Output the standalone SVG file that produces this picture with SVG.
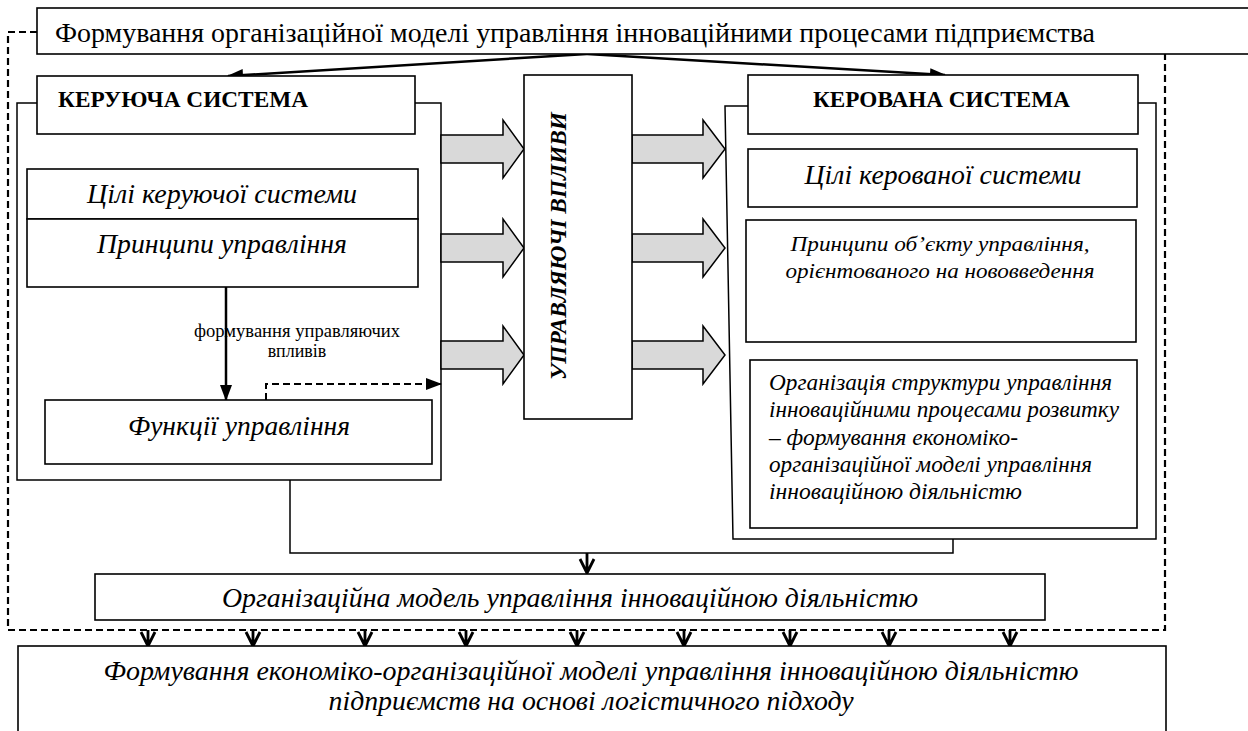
<svg xmlns="http://www.w3.org/2000/svg" width="1248" height="731" viewBox="0 0 1248 731">
<style>
text{font-family:"Liberation Serif","Times New Roman",serif;fill:#000}
.box{fill:#fff;stroke:#000;stroke-width:1.6}
.ln{fill:none;stroke:#000;stroke-width:1.5}
.dash{fill:none;stroke:#000;stroke-width:2.2;stroke-dasharray:7 4}
.ga{fill:#d9d9d9;stroke:#000;stroke-width:1.5}
.b{font-weight:bold}
.it{font-style:italic}
.bi{font-weight:bold;font-style:italic}
.v{fill:none;stroke:#000;stroke-width:2.8}
</style>
<defs>
<marker id="ahl" markerWidth="16" markerHeight="12" refX="15" refY="6" orient="auto" markerUnits="userSpaceOnUse">
<path d="M0,0 L16,6 L0,12 Z" fill="#000"/>
</marker>
<g id="vArrow"><path class="v" d="M0,0 V16 M-7,2 L0,16 L7,2"/></g>
</defs>

<g id="connectors">
<path class="dash" d="M37,32 H8 V630 H1165 V32 H1135"/>
<path class="ln" d="M587,54 L228,76" style="stroke-width:2.5" marker-end="url(#ahl)"/>
<path class="ln" d="M587,54 L945,75" style="stroke-width:2.5" marker-end="url(#ahl)"/>
<path class="ln" d="M226,287 V400" style="stroke-width:2.5" marker-end="url(#ahl)"/>
<path class="dash" d="M266,400 V384 H441" style="stroke-width:2" marker-end="url(#ahl)"/>
<path class="ln" d="M37,103 H17 V480 H441 V103 H415"/>
<path class="ln" d="M748,106 H725 L733,539 H1156 V103 H1138"/>
<path class="ln" d="M290,480 V553 H953 V539"/>
<use href="#vArrow" x="587" y="557"/>
<path class="v" d="M587,553 V557"/>
<use href="#vArrow" x="148" y="630"/>
<use href="#vArrow" x="253" y="630"/>
<use href="#vArrow" x="365" y="630"/>
<use href="#vArrow" x="466" y="630"/>
<use href="#vArrow" x="577" y="630"/>
<use href="#vArrow" x="684" y="630"/>
<use href="#vArrow" x="790" y="630"/>
<use href="#vArrow" x="889" y="630"/>
<use href="#vArrow" x="1010" y="630"/>
<path class="ga" d="M441,135 H503 V120 L524,149 L503,178 V163 H441 Z"/>
<path class="ga" d="M441,234 H503 V219 L524,248 L503,277 V262 H441 Z"/>
<path class="ga" d="M441,341 H503 V326 L524,355 L503,384 V369 H441 Z"/>
<path class="ga" d="M632,135 H703 V120 L725,149 L703,178 V163 H632 Z"/>
<path class="ga" d="M632,234 H703 V219 L725,248 L703,277 V262 H632 Z"/>
<path class="ga" d="M632,341 H703 V326 L725,355 L703,384 V369 H632 Z"/>
</g>

<g id="title">
<rect class="box" x="37" y="8" width="1230" height="46"/>
<text x="55" y="42" font-size="28" textLength="1040" lengthAdjust="spacingAndGlyphs">Формування організаційної моделі управління інноваційними процесами підприємства</text>
</g>

<g id="keruyucha">
<rect class="box" x="37" y="76" width="378" height="58"/>
<text x="58" y="107" font-size="23" class="b" textLength="250" lengthAdjust="spacingAndGlyphs">КЕРУЮЧА СИСТЕМА</text>
</g>

<g id="tsili-keruyuchoi">
<rect class="box" x="27" y="169" width="391" height="50"/>
<text x="222" y="203" font-size="28" class="it" text-anchor="middle" textLength="270" lengthAdjust="spacingAndGlyphs">Цілі керуючої системи</text>
</g>

<g id="pryntsypy">
<rect class="box" x="27" y="219" width="391" height="68"/>
<text x="222" y="253" font-size="28" class="it" text-anchor="middle" textLength="250" lengthAdjust="spacingAndGlyphs">Принципи управління</text>
</g>

<g id="label-formuvannya">
<text x="297" y="337" font-size="18" text-anchor="middle" textLength="206" lengthAdjust="spacingAndGlyphs">формування управляючих</text>
<text x="297" y="357" font-size="18" text-anchor="middle">впливів</text>
</g>

<g id="funktsii">
<rect class="box" x="45" y="400" width="387" height="64"/>
<text x="239" y="435" font-size="28" class="it" text-anchor="middle" textLength="222" lengthAdjust="spacingAndGlyphs">Функції управління</text>
</g>

<g id="upravlyayuchi">
<rect class="box" x="524" y="75" width="108" height="344"/>
<text transform="translate(566,246) rotate(-90)" font-size="23" class="bi" text-anchor="middle" textLength="268" lengthAdjust="spacingAndGlyphs">УПРАВЛЯЮЧІ ВПЛИВИ</text>
</g>

<g id="kerovana">
<rect class="box" x="748" y="75" width="390" height="59"/>
<text x="813" y="107" font-size="23" class="b" textLength="257" lengthAdjust="spacingAndGlyphs">КЕРОВАНА СИСТЕМА</text>
</g>

<g id="tsili-kerovanoi">
<rect class="box" x="748" y="149" width="389" height="58"/>
<text x="943" y="184" font-size="28" class="it" text-anchor="middle" textLength="277" lengthAdjust="spacingAndGlyphs">Цілі керованої системи</text>
</g>

<g id="pryntsypy-obiektu">
<rect class="box" x="746" y="220" width="390" height="122"/>
<text x="940" y="251" font-size="22" class="it" text-anchor="middle" textLength="299" lengthAdjust="spacingAndGlyphs">Принципи об’єкту управління,</text>
<text x="940" y="278" font-size="22" class="it" text-anchor="middle" textLength="309" lengthAdjust="spacingAndGlyphs">орієнтованого на нововведення</text>
</g>

<g id="orhanizatsiia">
<rect class="box" x="750" y="360" width="387" height="168"/>
<text x="769" y="390" font-size="23" class="it" textLength="343" lengthAdjust="spacingAndGlyphs">Організація структури управління</text>
<text x="769" y="417" font-size="23" class="it" textLength="350" lengthAdjust="spacingAndGlyphs">інноваційними процесами розвитку</text>
<text x="769" y="445" font-size="23" class="it" textLength="249" lengthAdjust="spacingAndGlyphs">– формування економіко-</text>
<text x="769" y="472" font-size="23" class="it" textLength="323" lengthAdjust="spacingAndGlyphs">організаційної моделі управління</text>
<text x="769" y="499" font-size="23" class="it" textLength="253" lengthAdjust="spacingAndGlyphs">інноваційною  діяльністю</text>
</g>

<g id="org-model">
<rect class="box" x="95" y="574" width="950" height="46"/>
<text x="570" y="607" font-size="28" class="it" text-anchor="middle" textLength="696" lengthAdjust="spacingAndGlyphs">Організаційна модель управління інноваційною діяльністю</text>
</g>

<g id="bottom">
<rect class="box" x="18" y="646" width="1148" height="100"/>
<text x="591" y="680" font-size="27" class="it" text-anchor="middle" textLength="975" lengthAdjust="spacingAndGlyphs">Формування економіко-організаційної моделі управління інноваційною діяльністю</text>
<text x="591" y="710" font-size="27" class="it" text-anchor="middle" textLength="525" lengthAdjust="spacingAndGlyphs">підприємств на основі логістичного підходу</text>
</g>
</svg>
